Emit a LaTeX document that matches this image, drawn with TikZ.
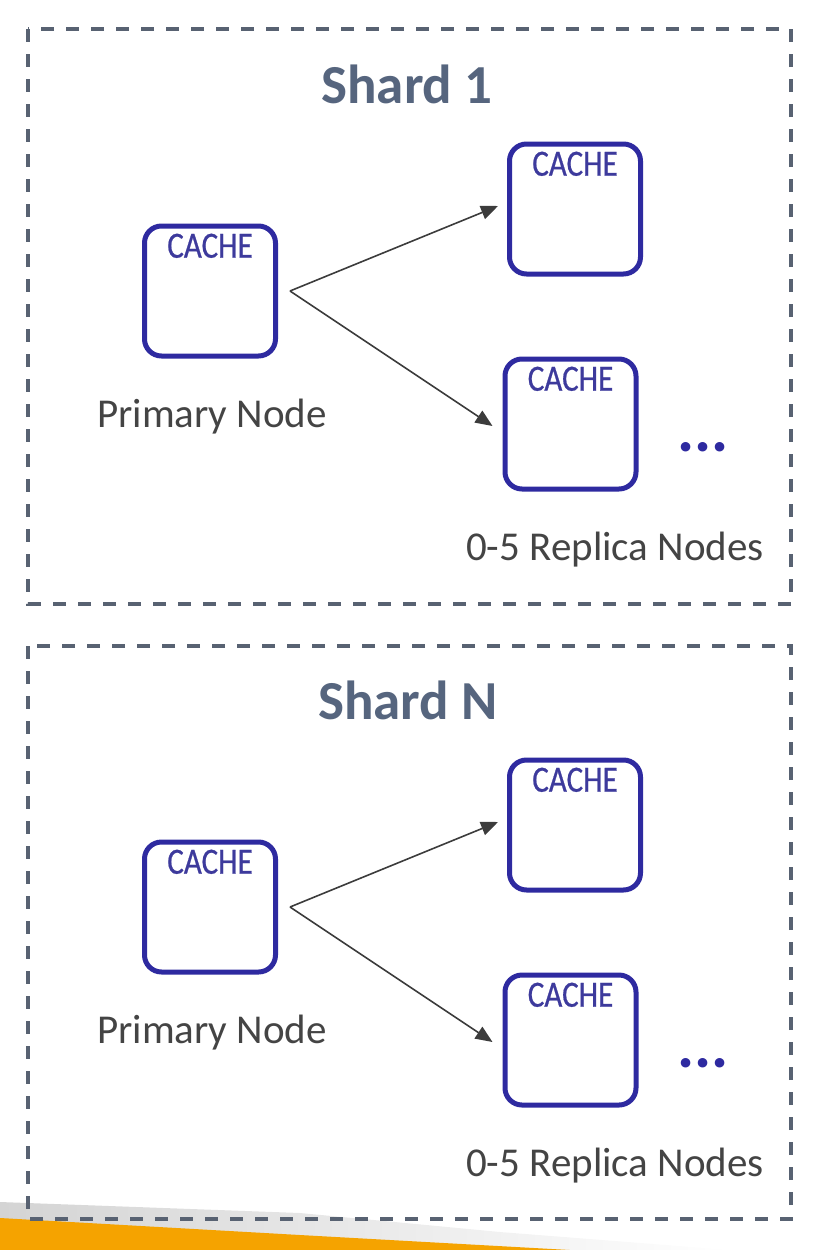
\documentclass[tikz,border=0pt]{standalone}
\usepackage{fontspec}
\setmainfont{Carlito}
\newfontfamily\condfont[FakeStretch=0.84,FakeBold=0.6]{Carlito}
\usetikzlibrary{arrows.meta}
\definecolor{boxblue}{HTML}{2E2AA0}
\definecolor{cacheblue}{HTML}{3D3A9C}
\definecolor{titlecol}{HTML}{56657E}
\definecolor{labelcol}{HTML}{444444}
\definecolor{dashcol}{HTML}{586272}
\definecolor{arrowcol}{HTML}{3C3C3C}
\definecolor{orangebar}{HTML}{F5A300}
\definecolor{graybar}{HTML}{D4D4D4}
\tikzset{
  cachebox/.style={draw=boxblue, line width=5pt, rounded corners=17pt,
    minimum width=131pt, minimum height=130pt, inner sep=0pt,
    label={[cachetxt, anchor=north, yshift=-10pt]north:CACHE}},
  cachetxt/.style={text=cacheblue, font=\condfont\fontsize{37}{37}\selectfont, inner sep=0pt},
  shardframe/.style={draw=dashcol, line width=3.3pt, dash pattern=on 13pt off 12pt},
  shardtitle/.style={text=titlecol, font=\fontsize{55}{55}\selectfont\bfseries, anchor=base, inner sep=0pt},
  nodelabel/.style={text=labelcol, font=\fontsize{41}{41}\selectfont, anchor=base, inner sep=0pt},
  moredots/.style={text=boxblue, font=\fontsize{64}{64}\selectfont\bfseries, anchor=base, inner sep=0pt},
  repl/.style={draw=arrowcol, line width=1.6pt, -{Triangle[length=17pt,width=14pt]}},
}
\begin{document}
\begin{tikzpicture}[x=1pt, y=-1pt]
\useasboundingbox (0,0) rectangle (820,1250);
% bottom decoration
\shade[left color=graybar, right color=white] (0,1202) -- (300,1213) -- (500,1232) -- (730,1250) -- (0,1250) -- cycle;
\fill[orangebar] (0,1218) -- (300,1235) -- (570,1250) -- (0,1250) -- cycle;

% Shard 1
\draw[shardframe] (28,29) rectangle (791,604);
\node[shardtitle] (t1) at (407,103) {Shard 1};
\node[cachebox] (p1) at (210,291) {};
\node[cachebox] (r1a) at (575,209) {};
\node[cachebox] (r1b) at (570.5,424) {};
\coordinate (s1) at ([xshift=12pt]p1.east);
\draw[repl] (s1) -- ([xshift=-9pt,yshift=3pt]r1a.west);
\draw[repl] (s1) -- ([xshift=-10pt,yshift=-2pt]r1b.west);
\node[nodelabel] (l1) at (212,427) {Primary Node};
\node[moredots] (d1) at (703,451) {...};
\node[nodelabel] (m1) at (615,560) {0-5 Replica Nodes};

% Shard N
\draw[shardframe] (28,646) rectangle (791,1219);
\node[shardtitle] (t2) at (408,719) {Shard N};
\node[cachebox] (p2) at (210,907) {};
\node[cachebox] (r2a) at (575,825) {};
\node[cachebox] (r2b) at (570.5,1040) {};
\coordinate (s2) at ([xshift=12pt]p2.east);
\draw[repl] (s2) -- ([xshift=-9pt,yshift=3pt]r2a.west);
\draw[repl] (s2) -- ([xshift=-10pt,yshift=-2pt]r2b.west);
\node[nodelabel] (l2) at (212,1043) {Primary Node};
\node[moredots] (d2) at (703,1067) {...};
\node[nodelabel] (m2) at (615,1176) {0-5 Replica Nodes};
\end{tikzpicture}
\end{document}
